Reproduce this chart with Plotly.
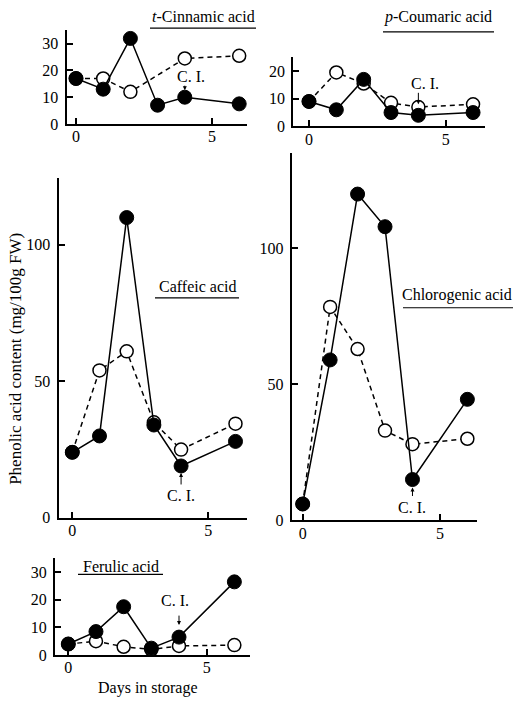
import plotly.graph_objects as go

W, H = 515, 708

# ---------------- data ----------------
days = [0, 1, 2, 3, 4, 6]
cinnamic_open_days = [0, 1, 2, 4, 6]

cinnamic_filled = [17, 13, 32, 7, 10, 7.5]
cinnamic_open = [17, 17, 12, 24.5, 25.5]
coumaric_filled = [9, 6, 17, 5, 4, 5]
coumaric_open = [9, 19.5, 15.5, 8.5, 7, 8]
caffeic_filled = [24, 30, 110, 34, 19, 28]
caffeic_open = [24, 54, 61, 35, 25, 34.5]
chlorogenic_filled = [6, 59, 120, 108, 15, 44.5]
chlorogenic_open = [6, 78.5, 63, 33, 28, 30]
ferulic_filled = [4, 8.5, 17.5, 2.5, 6.5, 26.5]
ferulic_open = [4, 5, 3, 2, 3.3, 3.6]

x_ticks = [0, 5]
x_ticklabels = ["0", "5"]

FONT = "Liberation Serif"

panels = [
    dict(name="<i>t</i>-Cinnamic acid", filled=(days, cinnamic_filled), open=(cinnamic_open_days, cinnamic_open),
         box=(66.5, 247, 30, 125.5), xr=(-0.349, 6.287), yr=(0, 35.3), yt=[0, 10, 20, 30],
         title=(203, 17), uline=(150, 256, 28.5),
         ci=dict(y=10, txs=6, tys=21, ay=-13, st=7)),
    dict(name="<i>p</i>-Coumaric acid", filled=(days, coumaric_filled), open=(days, coumaric_open),
         box=(293.3, 485, 58, 128), xr=(-0.574, 6.437), yr=(0, 25), yt=[0, 10, 20],
         title=(437.5, 17), uline=(383, 494, 32.3),
         ci=dict(y=4, txs=7, tys=32, ay=-24, st=11)),
    dict(name="Caffeic acid", filled=(days, caffeic_filled), open=(days, caffeic_open),
         box=(58.5, 246.7, 180, 524.5), xr=(-0.507, 6.412), yr=(0, 124.6), yt=[0, 50, 100],
         title=(197, 290), uline=(155, 239, 301.7),
         ci=dict(y=19, txs=0, tys=-30, ay=20, st=7)),
    dict(name="Chlorogenic acid", filled=(days, chlorogenic_filled), open=(days, chlorogenic_open),
         box=(291.7, 476.7, 155, 527), xr=(-0.40, 6.34), yr=(0, 135.1), yt=[0, 50, 100],
         title=(456.5, 299.3), uline=(403, 513, 311.7),
         ci=dict(y=15, txs=0, tys=-28, ay=18, st=8)),
    dict(name="Ferulic acid", filled=(days, ferulic_filled), open=(days, ferulic_open),
         box=(55, 250, 565, 663.5), xr=(-0.48, 6.565), yr=(0, 35.2), yt=[0, 10, 20, 30],
         title=(121, 573.3), uline=(78, 163, 581.7),
         ci=dict(y=6.5, txs=-4, tys=37, ay=-23, st=12)),
]

fig = go.Figure()
annotations = []
shapes = []

for i, p in enumerate(panels):
    k = "" if i == 0 else str(i + 1)
    xa, ya = "x" + k, "y" + k
    fig.add_trace(go.Scatter(
        x=p["open"][0], y=p["open"][1], xaxis=xa, yaxis=ya, mode="lines+markers",
        line=dict(color="black", width=1.5, dash="5px,4px"),
        marker=dict(symbol="circle", size=13, color="white", line=dict(color="black", width=1.5)),
        cliponaxis=False, showlegend=False, hoverinfo="skip"))
    fig.add_trace(go.Scatter(
        x=p["filled"][0], y=p["filled"][1], xaxis=xa, yaxis=ya, mode="lines+markers",
        line=dict(color="black", width=1.5),
        marker=dict(symbol="circle", size=14, color="black", line=dict(color="black", width=1)),
        cliponaxis=False, showlegend=False, hoverinfo="skip"))

    l, r, t, b = p["box"]
    common = dict(showline=True, linecolor="black", linewidth=2, ticks="inside", ticklen=6,
                  tickwidth=2, tickcolor="black", showgrid=False, zeroline=False,
                  tickfont=dict(family=FONT, size=16, color="black"), fixedrange=True)
    fig.update_layout(**{
        "xaxis" + k: dict(domain=[l / W, r / W], range=list(p["xr"]), anchor=ya,
                          tickvals=x_ticks, ticktext=x_ticklabels, ticklabelstandoff=-3, **common),
        "yaxis" + k: dict(domain=[1 - b / H, 1 - t / H], range=list(p["yr"]), anchor=xa,
                          tickvals=p["yt"], ticklabelstandoff=3, **common),
    })

    annotations.append(dict(text=p["name"], x=p["title"][0] / W, y=1 - p["title"][1] / H,
                            xref="paper", yref="paper", showarrow=False, xanchor="center",
                            yanchor="middle", font=dict(family=FONT, size=16, color="black")))
    u0, u1, uy = p["uline"]
    shapes.append(dict(type="line", xref="paper", yref="paper", x0=u0 / W, x1=u1 / W,
                       y0=1 - uy / H, y1=1 - uy / H, line=dict(color="black", width=1.2)))

    ci = p["ci"]
    annotations.append(dict(text="C. I.", x=4, y=ci["y"], xref=xa, yref=ya, showarrow=False,
                            xshift=ci["txs"], yshift=ci["tys"], xanchor="center", yanchor="middle",
                            font=dict(family=FONT, size=16, color="black")))
    annotations.append(dict(text="", x=4, y=ci["y"], xref=xa, yref=ya, showarrow=True,
                            ax=0, ay=ci["ay"], standoff=ci["st"], arrowhead=2, arrowsize=0.8,
                            arrowwidth=1, arrowcolor="black"))

annotations.append(dict(text="Phenolic acid content (mg/100g FW)", x=15.5 / W, y=1 - 364 / H,
                        xref="paper", yref="paper", showarrow=False, textangle=-90,
                        xanchor="center", yanchor="middle",
                        font=dict(family=FONT, size=17, color="black")))
annotations.append(dict(text="Days in storage", x=148 / W, y=1 - 697 / H,
                        xref="paper", yref="paper", showarrow=False,
                        xanchor="center", yanchor="middle",
                        font=dict(family=FONT, size=16, color="black")))

fig.update_layout(width=W, height=H, margin=dict(l=0, r=0, t=0, b=0),
                  paper_bgcolor="white", plot_bgcolor="white",
                  annotations=annotations, shapes=shapes, showlegend=False)

post = "document.body.style.margin='0';"
fig.write_html("out.html", post_script=post, config={"displayModeBar": False})
